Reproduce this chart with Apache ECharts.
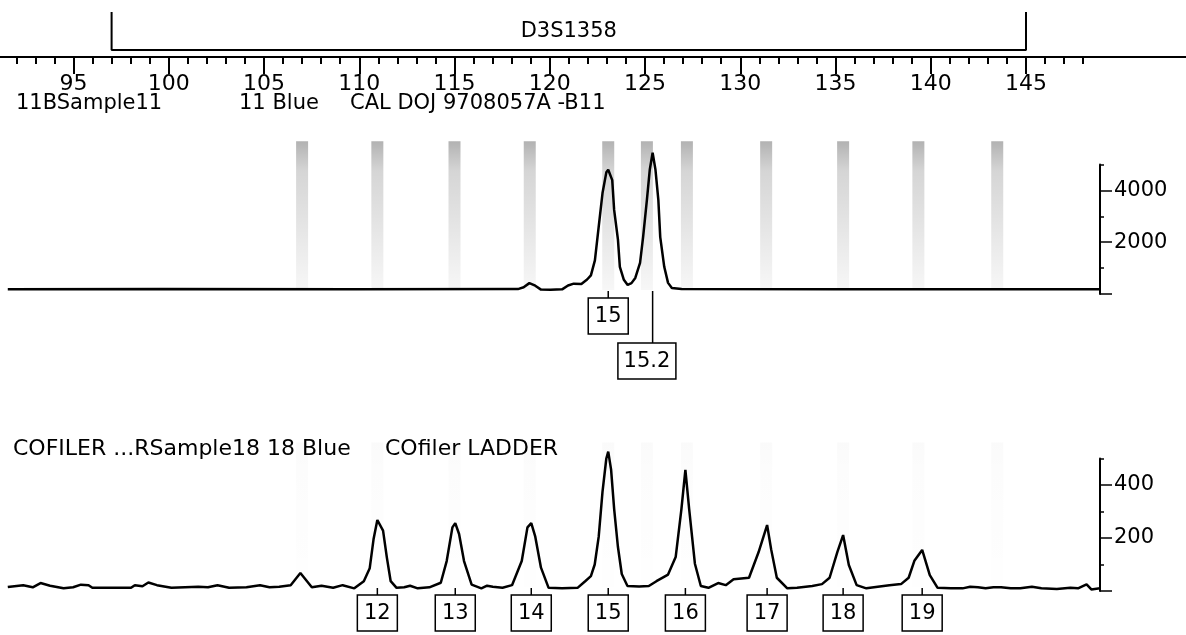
<!DOCTYPE html>
<html>
<head>
<meta charset="utf-8">
<title>D3S1358</title>
<script src="https://cdn.jsdelivr.net/npm/echarts@6/dist/echarts.min.js"></script>
<style>
html, body { margin: 0; padding: 0; background: #fff; }
#chart { width: 1186px; height: 635px; }
</style>
</head>
<body>
<div id="chart"></div>
<script>
/* locus marker on the ruler */
var locusName = "D3S1358";
var locusRange = [97.0, 145];

/* ruler (bp) */
var rulerMinor = [92, 148];
var rulerMajor = [95, 145];

/* panel headers */
var sampleHeader = ["11BSample11", "11 Blue", "CAL DOJ 9708057A -B11"];
var ladderHeader = ["COFILER ...RSample18 18 Blue", "COfiler LADDER"];

/* allele bins (bp) */
var binBp = [107.0, 110.95, 115.0, 118.95, 123.07, 125.1, 127.2, 131.36, 135.4, 139.35, 143.49];

/* sample trace */
var sampleBp = [91.55, 99.63, 109.74, 118.33, 118.63, 118.93, 119.24, 119.54, 120.04, 120.65,
  120.96, 121.26, 121.66, 121.96, 122.16, 122.37, 122.57, 122.77, 122.97, 123.07,
  123.28, 123.38, 123.58, 123.68, 123.89, 124.09, 124.29, 124.49, 124.74, 124.9,
  125.1, 125.25, 125.4, 125.55, 125.7, 125.8, 126.01, 126.21, 126.41, 126.92,
  135.0, 148.88];
var sampleRfu = [180, 190, 180, 190, 260, 420, 320, 170, 160, 180,
  330, 400, 390, 560, 720, 1300, 2600, 3900, 4700, 4800,
  4400, 3250, 2100, 1050, 550, 350, 420, 620, 1200, 2200,
  3640, 4800, 5460, 4800, 3640, 2200, 1050, 430, 230, 190,
  180, 180];
var sampleAlleles = ["15", "15.2"];
var samplePeakBp = [123.07, 125.4];
var sampleBoxBp = [123.07, 125.1];

/* ladder trace */
var ladderBp = [91.55, 92.36, 92.86, 93.27, 93.77, 94.48, 94.98, 95.39, 95.79, 95.99,
  97.11, 98.02, 98.22, 98.62, 98.93, 99.38, 100.14, 100.85, 101.55, 102.06,
  102.56, 103.17, 104.08, 104.79, 105.29, 105.8, 106.4, 106.91, 107.51, 108.02,
  108.63, 109.13, 109.74, 110.24, 110.55, 110.75, 110.95, 111.25, 111.45, 111.65,
  111.96, 112.36, 112.67, 113.07, 113.68, 114.28, 114.59, 114.89, 115.04, 115.24,
  115.5, 115.9, 116.41, 116.71, 117.01, 117.52, 118.02, 118.53, 118.83, 119.03,
  119.24, 119.54, 119.94, 120.65, 121.46, 121.86, 122.16, 122.36, 122.57, 122.77,
  122.97, 123.07, 123.22, 123.38, 123.58, 123.78, 124.08, 124.69, 125.2, 125.6,
  126.21, 126.61, 126.91, 127.12, 127.32, 127.62, 127.93, 128.33, 128.84, 129.24,
  129.65, 130.46, 130.96, 131.41, 131.62, 131.92, 132.47, 132.98, 133.78, 134.29,
  134.69, 135.1, 135.4, 135.7, 136.11, 136.62, 137.22, 137.83, 138.44, 138.84,
  139.14, 139.55, 139.95, 140.36, 141.06, 141.67, 142.07, 142.48, 142.88, 143.29,
  143.69, 144.2, 144.7, 145.31, 145.81, 146.62, 147.33, 147.73, 148.18, 148.43,
  148.88];
var ladderRfu = [15, 22, 14, 30, 20, 10, 14, 24, 22, 12,
  12, 12, 22, 18, 32, 22, 12, 14, 16, 14,
  22, 12, 14, 22, 14, 16, 22, 68, 14, 20,
  12, 22, 10, 37, 86, 195, 268, 228, 126, 37,
  12, 14, 20, 10, 14, 31, 113, 240, 256, 215,
  113, 24, 10, 20, 16, 12, 22, 113, 240, 256,
  205, 88, 12, 10, 12, 37, 56, 100, 205, 375,
  500, 526, 458, 310, 166, 64, 19, 17, 19, 37,
  62, 128, 308, 457, 308, 103, 19, 12, 30, 22,
  44, 50, 146, 249, 158, 50, 10, 12, 19, 26,
  50, 148, 211, 98, 22, 10, 16, 22, 26, 50,
  114, 155, 60, 12, 10, 10, 16, 14, 10, 14,
  14, 10, 10, 16, 10, 8, 12, 10, 25, 6,
  10];
var ladderAlleles = ["12", "13", "14", "15", "16", "17", "18", "19"];
var ladderPeakBp = [110.95, 115.04, 119.03, 123.07, 127.12, 131.41, 135.4, 139.55];

/* y scales */
var sampleMax = 5000, sampleMinorStep = 1000, sampleLabelMax = 4000, sampleLabelStep = 2000;
var ladderMax = 500, ladderMinorStep = 100, ladderLabelMax = 400, ladderLabelStep = 200;

/* ---- layout ---- */
var W = 1186;
var PX_PER_BP = 19.05, X95 = 73.5;
function bpToPx(bp) { return X95 + (bp - 95) * PX_PER_BP; }
var AXIS_X = 1100;
var traceMin = 95 + (8 - X95) / PX_PER_BP;
var traceMax = 95 + (AXIS_X - X95) / PX_PER_BP;
var RULER_Y = 57;
var SAMPLE_ZERO = 294, SAMPLE_H = 129.4;
var LADDER_ZERO = 591, LADDER_H = 132.5;
var FONT = '"DejaVu Sans", sans-serif';

var echarts = window.echarts;
var myChart = echarts.init(document.getElementById("chart"), null, { renderer: "canvas" });

function zip(xs, ys) {
  return xs.map(function (x, i) { return [x, ys[i]]; });
}

function hiddenAxis(gridIndex, min, max) {
  return { type: "value", gridIndex: gridIndex, min: min, max: max, show: false,
    axisLine: { onZero: false } };
}

function minorYAxis(gridIndex, max, step) {
  return {
    type: "value", gridIndex: gridIndex, position: "right", min: 0, max: max, interval: step,
    axisLine: { show: true, onZero: false, lineStyle: { color: "#000", width: 2 } },
    axisTick: { show: true, length: 4, lineStyle: { color: "#000", width: 1.5 } },
    axisLabel: { show: false },
    splitLine: { show: false }
  };
}

function majorYAxis(gridIndex, max, step) {
  return {
    type: "value", gridIndex: gridIndex, position: "right", min: 0, max: max, interval: step,
    axisLine: { show: false, onZero: false },
    axisTick: { show: true, length: 12, lineStyle: { color: "#000", width: 1.5 } },
    axisLabel: {
      show: true, margin: 14, color: "#000", fontSize: 21, fontFamily: FONT,
      formatter: function (v) { return v === 0 ? "" : String(v); }
    },
    splitLine: { show: false }
  };
}

/* allele boxes with leader lines */
function alleleSeries(name, axisIndex, alleles, peakBp, boxBp) {
  var widths = alleles.map(function (a) { return a.length > 2 ? 58 : 40; });
  return {
    name: name, type: "custom", xAxisIndex: axisIndex, yAxisIndex: axisIndex,
    clip: false, silent: true, z: 5,
    data: peakBp.map(function (p, i) { return [p, boxBp[i]]; }),
    renderItem: function (params, api) {
      var i = params.dataIndex;
      var peak = api.coord([api.value(0), 0]);
      var box = api.coord([api.value(1), 0]);
      var row = 0;
      if (i > 0) {
        var prev = api.coord([boxBp[i - 1], 0]);
        if (box[0] - prev[0] < (widths[i] + widths[i - 1]) / 2 + 2) row = 1;
      }
      var w = widths[i], h = 36;
      var top = peak[1] + 4 + row * 45;
      return {
        type: "group",
        children: [
          { type: "line", shape: { x1: peak[0], y1: peak[1] - 3, x2: peak[0], y2: top },
            style: { stroke: "#000", lineWidth: 1.5 } },
          { type: "rect", shape: { x: box[0] - w / 2, y: top, width: w, height: h },
            style: { fill: "#fff", stroke: "#000", lineWidth: 1.5 } },
          { type: "text", style: { text: alleles[i], x: box[0], y: top + h / 2 + 1,
            align: "center", verticalAlign: "middle", fill: "#000",
            font: "21px " + FONT } }
        ]
      };
    }
  };
}

/* stippled bin bands */
function binSeries(axisIndex, topValue, alphaTop) {
  return {
    type: "custom", xAxisIndex: axisIndex, yAxisIndex: axisIndex,
    clip: false, silent: true, z: 1,
    data: binBp.map(function (b) { return [b]; }),
    renderItem: function (params, api) {
      var t = api.coord([api.value(0), topValue]);
      var b = api.coord([api.value(0), 0]);
      return {
        type: "rect",
        shape: { x: t[0] - 6, y: t[1], width: 12, height: b[1] - t[1] - 4 },
        style: {
          fill: new echarts.graphic.LinearGradient(0, 0, 0, 1, [
            { offset: 0, color: "rgba(0,0,0," + alphaTop + ")" },
            { offset: 0.2, color: "rgba(0,0,0," + alphaTop * 0.55 + ")" },
            { offset: 1, color: "rgba(0,0,0," + alphaTop * 0.1 + ")" }
          ])
        }
      };
    }
  };
}

function headerTitles(parts, lefts, top, size) {
  return parts.map(function (t, i) {
    return {
      text: t, left: lefts[i], top: top, padding: 0,
      textStyle: { fontSize: size, fontWeight: "normal", color: "#000", fontFamily: FONT }
    };
  });
}

var grids = [
  /* 0 bracket */
  { left: bpToPx(rulerMinor[0]), right: W - bpToPx(rulerMinor[1]), top: 12, height: 40 },
  /* 1 ruler minor ticks */
  { left: bpToPx(rulerMinor[0]), right: W - bpToPx(rulerMinor[1]), top: 0, height: RULER_Y },
  /* 2 ruler major ticks */
  { left: bpToPx(rulerMajor[0]), right: W - bpToPx(rulerMajor[1]), top: 0, height: RULER_Y },
  /* 3 ruler full line */
  { left: 0, right: 0, top: 0, height: RULER_Y },
  /* 4 sample trace */
  { left: bpToPx(traceMin), right: W - AXIS_X, top: SAMPLE_ZERO - SAMPLE_H, height: SAMPLE_H },
  /* 5 ladder trace */
  { left: bpToPx(traceMin), right: W - AXIS_X, top: LADDER_ZERO - LADDER_H, height: LADDER_H },
  /* 6 sample labelled ticks */
  { left: bpToPx(traceMin), right: W - AXIS_X, top: SAMPLE_ZERO - SAMPLE_H * sampleLabelMax / sampleMax,
    height: SAMPLE_H * sampleLabelMax / sampleMax },
  /* 7 ladder labelled ticks */
  { left: bpToPx(traceMin), right: W - AXIS_X, top: LADDER_ZERO - LADDER_H * ladderLabelMax / ladderMax,
    height: LADDER_H * ladderLabelMax / ladderMax }
].map(function (g) { g.outerBoundsMode = "none"; g.containLabel = false; return g; });

var option = {
  animation: false,
  backgroundColor: "#fff",
  title: headerTitles(sampleHeader, [16, 239, 350], 93, 21)
    .concat(headerTitles(ladderHeader, [13, 385], 438, 22)),
  grid: grids,
  xAxis: [
    hiddenAxis(0, rulerMinor[0], rulerMinor[1]),
    {
      type: "value", gridIndex: 1, position: "bottom", min: rulerMinor[0], max: rulerMinor[1], interval: 1,
      axisLine: { show: false, onZero: false },
      axisTick: { show: true, length: 7, lineStyle: { color: "#000", width: 2 } },
      axisLabel: { show: false }, splitLine: { show: false }
    },
    {
      type: "value", gridIndex: 2, position: "bottom", min: rulerMajor[0], max: rulerMajor[1], interval: 5,
      axisLine: { show: false, onZero: false },
      axisTick: { show: true, length: 17, lineStyle: { color: "#000", width: 2 } },
      axisLabel: { show: true, margin: 16, color: "#000", fontSize: 22, fontFamily: FONT },
      splitLine: { show: false }
    },
    {
      type: "value", gridIndex: 3, position: "bottom", min: 0, max: 1,
      axisLine: { show: true, onZero: false, lineStyle: { color: "#000", width: 2 } },
      axisTick: { show: false }, axisLabel: { show: false }, splitLine: { show: false }
    },
    hiddenAxis(4, traceMin, traceMax),
    hiddenAxis(5, traceMin, traceMax),
    hiddenAxis(6, 0, 1),
    hiddenAxis(7, 0, 1)
  ],
  yAxis: [
    hiddenAxis(0, -0.05, 1),
    hiddenAxis(1, 0, 1),
    hiddenAxis(2, 0, 1),
    hiddenAxis(3, 0, 1),
    minorYAxis(4, sampleMax, sampleMinorStep),
    minorYAxis(5, ladderMax, ladderMinorStep),
    majorYAxis(6, sampleLabelMax, sampleLabelStep),
    majorYAxis(7, ladderLabelMax, ladderLabelStep)
  ],
  series: [
    {
      name: "locus", type: "line", xAxisIndex: 0, yAxisIndex: 0, clip: false,
      symbol: "none", silent: true,
      lineStyle: { color: "#000", width: 2 },
      data: [[locusRange[0], 1], [locusRange[0], 0], [locusRange[1], 0], [locusRange[1], 1]]
    },
    {
      name: "locusName", type: "custom", xAxisIndex: 0, yAxisIndex: 0, clip: false, silent: true,
      data: [[(locusRange[0] + locusRange[1]) / 2, 0.5]],
      renderItem: function (params, api) {
        var p = api.coord([api.value(0), api.value(1)]);
        return { type: "text", style: { text: locusName, x: p[0], y: p[1], align: "center",
          verticalAlign: "middle", fill: "#000", font: "21px " + FONT } };
      }
    },
    binSeries(4, 5900, 0.3),
    binSeries(5, 560, 0.02),
    {
      name: "sample", type: "line", xAxisIndex: 4, yAxisIndex: 4, clip: false,
      symbol: "none", silent: true, z: 3,
      lineStyle: { color: "#000", width: 2.5 },
      data: zip(sampleBp, sampleRfu)
    },
    {
      name: "ladder", type: "line", xAxisIndex: 5, yAxisIndex: 5, clip: false,
      symbol: "none", silent: true, z: 3,
      lineStyle: { color: "#000", width: 2.5 },
      data: zip(ladderBp, ladderRfu)
    },
    alleleSeries("sampleAlleles", 4, sampleAlleles, samplePeakBp, sampleBoxBp),
    alleleSeries("ladderAlleles", 5, ladderAlleles, ladderPeakBp, ladderPeakBp)
  ]
};

myChart.setOption(option);
window.addEventListener("resize", function () { myChart.resize(); });
</script>
</body>
</html>
